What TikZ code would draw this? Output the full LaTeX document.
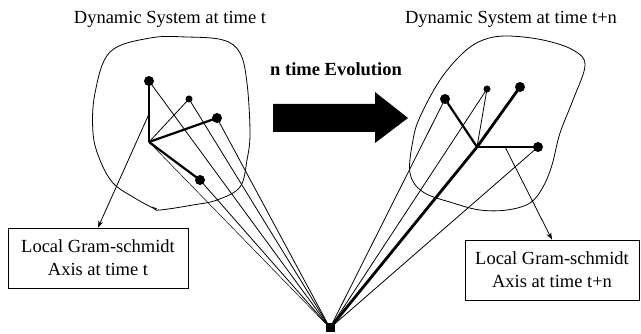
\documentclass[tikz,border=0pt]{standalone}
\usepackage{fontspec}
\setmainfont{Liberation Serif}
\usetikzlibrary{arrows.meta,calc}
\begin{document}
\begin{tikzpicture}[x=1pt,y=-1pt,
  thinl/.style={line width=0.8pt},
  thickl/.style={line width=2.2pt},
  bigdot/.style={circle,fill=black,inner sep=0pt,minimum size=10pt},
  smalldot/.style={circle,fill=black,inner sep=0pt,minimum size=7pt},
  labelbox/.style={draw,line width=0.8pt,align=center,inner sep=2pt,font=\fontsize{18.5}{23}\selectfont},
  titletext/.style={font=\fontsize{18.5}{22}\selectfont},
  gsarrow/.style={thinl,-{Stealth[length=7pt,width=5pt]}}
]
\useasboundingbox (0,0) rectangle (641,334);

% titles
\node[titletext] (t1) at (170,19) {Dynamic System at time t};
\node[titletext] (t2) at (511,19) {Dynamic System at time t+n};
\node[titletext,font=\fontsize{18.5}{22}\selectfont\bfseries] (ev) at (336,69) {n time Evolution};

% big arrow
\fill (273,104) -- (375,104) -- (375,92) -- (408,118) -- (375,143) -- (375,132) -- (273,132) -- cycle;

% blobs
\draw[thinl] plot[smooth cycle,tension=0.6] coordinates {(153,208) (133,197) (113,183) (100,160) (93,133) (95,93) (110,52) (150,38) (187,37) (223,40) (240,53) (247,83) (250,133) (247,160) (240,187) (217,200) (193,205) (160,210)};
\draw[thinl] (157,209) -- (152,207);
\draw[thinl] plot[smooth cycle,tension=0.6] coordinates {(483,40) (507,36) (543,40) (573,50) (585,65) (573,100) (560,133) (552,165) (543,187) (530,203) (507,210) (480,210) (453,203) (423,192) (410,173) (413,140) (420,117) (440,80) (463,53)};

% apex
\node[fill=black,inner sep=0pt,minimum size=9pt] (apex) at (330,328) {};

% left system
\coordinate (O1) at (149,142);
\node[bigdot] (A) at (149,81) {};
\node[smalldot] (B) at (189,99) {};
\node[bigdot] (C) at (217,118) {};
\node[bigdot] (D) at (200,180) {};
\draw[thickl] (O1) -- (A.center);
\draw[thinl] (O1) -- (B.center);
\draw[thickl] (O1) -- (C.center);
\draw[thickl] (O1) -- (D.center);
\draw[line width=0.5pt] (O1) -- (apex.center);
\foreach \p in {A,B,C,D} \draw[thinl] (\p.center) -- (apex.center);

% right system
\coordinate (O2) at (477,147);
\node[bigdot] (E) at (445,99) {};
\node[smalldot] (F) at (487,89) {};
\node[bigdot] (G) at (520,87) {};
\node[bigdot] (H) at (538,147) {};
\draw[thickl] (O2) -- (E.center);
\draw[thinl] (O2) -- (F.center);
\draw[line width=2.8pt] (G.center) -- (O2) -- (apex.center);
\draw[thickl] (O2) -- (H.center);
\foreach \p in {E,F,H} \draw[thinl] (\p.center) -- (apex.center);

% boxes
\node[labelbox,minimum width=180pt,minimum height=60pt] (lbox) at (98,258) {Local Gram-schmidt\\Axis at time t};
\node[labelbox,minimum width=174pt,minimum height=60pt] (rbox) at (552,270) {Local Gram-schmidt\\Axis at time t+n};

% pointers
\coordinate (p1) at ($(O1)!0.46!(A)$);
\coordinate (p2) at ($(O2)!0.46!(H)$);
\draw[gsarrow] (p1) -- (lbox.north);
\draw[gsarrow] (p2) -- (rbox.north);
\end{tikzpicture}
\end{document}
